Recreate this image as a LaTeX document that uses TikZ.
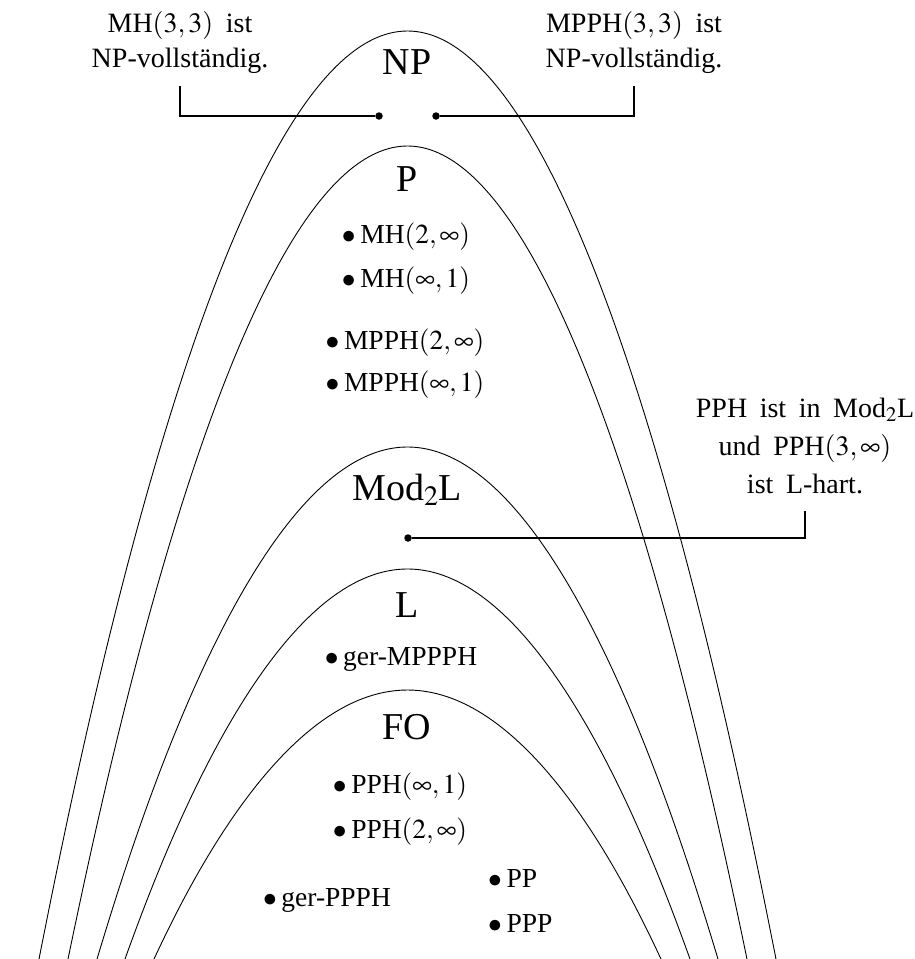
\documentclass[tikz,border=0pt]{standalone}
\usepackage{mathptmx}
\usepackage{fontspec}
\setmainfont{Liberation Serif}
\newcommand{\notefont}[1]{\fontsize{28}{#1}\selectfont\spaceskip 0.45em\relax}
\tikzset{
  cls/.style={draw=black, line width=0.9pt},
  clsname/.style={font=\fontsize{38}{44}\selectfont, inner sep=0pt, anchor=base},
  elem/.style={font=\fontsize{27.5}{34}\selectfont, inner sep=0pt},
  note/.style={font={\notefont{35}}, align=center, inner sep=0pt},
  pin/.style={circle, fill=black, inner sep=0pt, minimum size=7.5pt},
  conn/.style={draw=black, line width=1.3pt},
}

\begin{document}
\begin{tikzpicture}[x=1pt, y=-1pt]
\useasboundingbox (0,0) rectangle (915,959);

% complexity classes, outermost first
\draw[cls] (39,959) parabola bend (407.5,31) (776,959);
\draw[cls] (68,959) parabola bend (407.5,146) (747,959);
\draw[cls] (97,959) parabola bend (407.5,447) (718,959);
\draw[cls] (125,959) parabola bend (407.5,569) (690,959);
\draw[cls] (154,959) parabola bend (407.5,690) (661,959);

\node[clsname] (np) at (407,74) {NP};
\node[clsname] (p) at (407,191) {P};
\node[clsname] (modl) at (407,500) {Mod$_2$L};
\node[clsname] (l) at (407,617) {L};
\node[clsname] (fo) at (407,739) {FO};

% problems
\node[elem] (mhtwo) at (406,237) {$\bullet$\,MH$(2,\infty)$};
\node[elem] (mhinf) at (406,281) {$\bullet$\,MH$(\infty,1)$};
\node[elem] (mpphtwo) at (405,343) {$\bullet$\,MPPH$(2,\infty)$};
\node[elem] (mpphinf) at (405,385) {$\bullet$\,MPPH$(\infty,1)$};
\node[elem] (germppph) at (401,659) {$\bullet$\,ger-MPPPH};
\node[elem] (pphinf) at (400,787) {$\bullet$\,PPH$(\infty,1)$};
\node[elem] (pphtwo) at (400,832) {$\bullet$\,PPH$(2,\infty)$};
\node[elem] (gerppph) at (327,900) {$\bullet$\,ger-PPPH};
\node[elem, anchor=west] (pp) at (488,878) {$\bullet$\,PP};
\node[elem, anchor=west] (ppp) at (488,923) {$\bullet$\,PPP};

% remarks
\node[note] (mhnote) at (180,43) {MH$(3,3)$ ist\\NP-vollst\"andig.};
\node[note] (mpphnote) at (634,43) {MPPH$(3,3)$ ist\\NP-vollst\"andig.};
\node[note, font={\notefont{38}}] (pphnote) at (805,446)
  {PPH ist in Mod$_2$L\\und PPH$(3,\infty)$\\ist L-hart.};

\node[pin] (npleft) at (379,116) {};
\node[pin] (npright) at (436,116) {};
\node[pin] (modpin) at (408,538) {};

\draw[conn, shorten <=12pt] (mhnote) |- (npleft);
\draw[conn, shorten <=12pt] (mpphnote) |- (npright);
\draw[conn, shorten <=17pt] (pphnote) |- (modpin);

\end{tikzpicture}
\end{document}
